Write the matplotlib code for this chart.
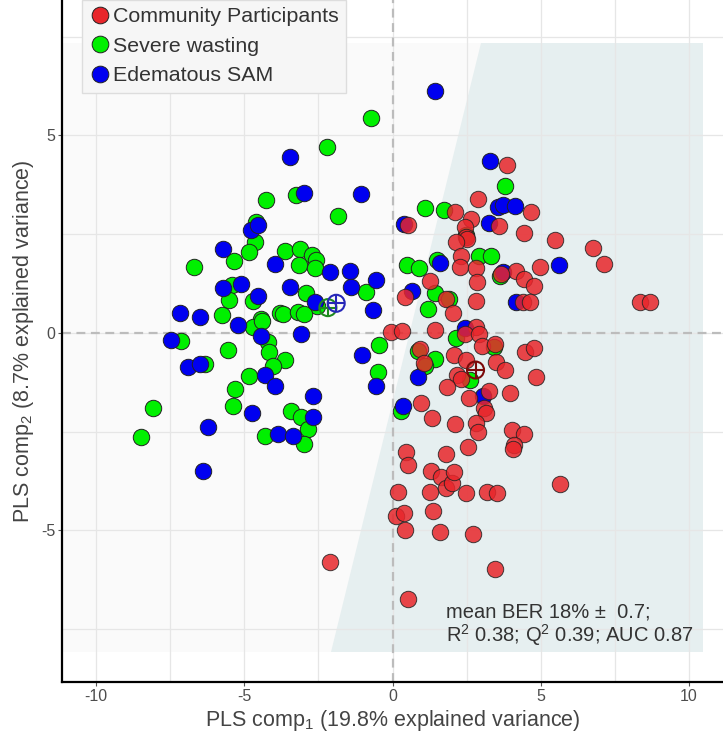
import numpy as np
import matplotlib
matplotlib.use("Agg")
import matplotlib.pyplot as plt
from matplotlib.patches import Polygon, Rectangle
from matplotlib.lines import Line2D

plt.rcParams['font.family'] = ['Liberation Sans', 'DejaVu Sans']
plt.rcParams['mathtext.fontset'] = 'custom'
plt.rcParams['mathtext.rm'] = 'Liberation Sans'
plt.rcParams['mathtext.default'] = 'regular'
plt.rcParams['axes.unicode_minus'] = False

# scores (comp1, comp2)
community = [
    (3.86, 4.24), (2.89, 3.39), (4.68, 3.06), (2.10, 3.06), (2.65, 2.89), (0.53, 2.73),
    (3.58, 2.71), (2.46, 2.68), (2.49, 2.44), (2.51, 2.37), (2.15, 2.30), (4.45, 2.53),
    (5.47, 2.36), (6.76, 2.14), (7.15, 1.74), (2.30, 1.96), (2.29, 1.68), (2.82, 1.64),
    (2.86, 1.30), (4.17, 1.58), (3.66, 1.49), (4.42, 1.36), (4.77, 1.20), (4.98, 1.68),
    (1.25, 1.32), (0.42, 0.91), (1.81, 0.85), (2.82, 0.81), (4.40, 0.78), (4.64, 0.78),
    (8.35, 0.79), (8.70, 0.77), (2.03, 0.50), (-0.04, 0.02), (0.31, 0.05), (1.42, 0.08),
    (2.82, 0.16), (2.43, -0.03), (2.91, -0.03), (3.02, -0.32), (3.47, -0.29), (4.47, -0.49),
    (4.79, -0.39), (0.94, -0.40), (2.06, -0.57), (2.48, -0.68), (3.50, -0.73), (3.78, -0.94),
    (1.06, -0.77), (2.17, -1.06), (2.32, -1.16), (4.85, -1.11), (1.84, -1.38), (3.24, -1.47),
    (3.95, -1.51), (2.57, -1.66), (3.10, -1.89), (3.16, -2.03), (0.97, -1.78), (1.33, -2.16),
    (2.11, -2.30), (2.82, -2.27), (2.90, -2.50), (4.04, -2.46), (4.43, -2.57), (4.09, -2.84),
    (4.06, -2.94), (2.54, -2.88), (0.46, -3.02), (1.79, -3.07), (0.52, -3.34), (1.30, -3.49),
    (1.62, -3.65), (1.79, -3.92), (2.00, -3.81), (2.07, -3.51), (0.18, -4.03), (1.28, -4.02),
    (2.49, -4.06), (3.18, -4.03), (3.53, -4.06), (5.66, -3.82), (0.12, -4.63), (0.38, -4.57),
    (1.38, -4.50), (0.43, -4.99), (1.60, -5.05), (2.72, -5.10), (-2.11, -5.81), (3.46, -5.97),
    (0.53, -6.73),
]

severe_wasting = [
    (-0.74, 5.44), (-2.20, 4.70), (-3.27, 3.50), (-4.27, 3.37), (-1.85, 2.95), (-4.60, 2.82),
    (-4.63, 2.29), (-4.83, 2.05), (-5.34, 1.82), (-6.71, 1.68), (-3.63, 2.08), (-3.13, 2.13),
    (-2.71, 1.97), (-2.57, 1.85), (-3.14, 1.73), (-2.61, 1.65), (-0.89, 1.04), (-5.42, 1.21),
    (-5.51, 0.84), (-4.70, 0.81), (-2.91, 1.01), (-2.54, 0.68), (-5.76, 0.46), (-4.43, 0.35),
    (-3.81, 0.51), (-3.70, 0.48), (-3.19, 0.52), (-3.00, 0.48), (-4.71, 0.14), (-4.42, 0.29),
    (-4.20, -0.22), (-4.16, -0.49), (-3.64, -0.69), (-4.04, -0.84), (-4.83, -1.09), (-5.31, -1.42),
    (-5.39, -1.85), (-5.55, -0.44), (-7.15, -0.20), (-6.33, -0.79), (-8.09, -1.90), (-8.48, -2.64),
    (-3.41, -1.97), (-3.08, -2.13), (-2.86, -2.43), (-3.00, -2.82), (-4.29, -2.61), (-0.44, -0.30),
    (-0.49, -1.00), (3.78, 3.72), (1.09, 3.16), (1.75, 3.11), (2.48, 2.47), (2.91, 1.95),
    (3.31, 1.96), (3.61, 1.43), (0.48, 1.71), (0.91, 1.64), (1.49, 1.84), (1.45, 1.00),
    (1.92, 0.86), (1.19, 0.60), (2.15, -0.14), (3.44, -0.35), (0.85, -0.47), (1.45, -0.67),
    (1.08, -0.85), (2.60, -1.19), (0.29, -1.99),
]

edematous = [
    (1.44, 6.13), (3.29, 4.35), (-3.45, 4.46), (-2.98, 3.55), (-1.05, 3.51), (-4.77, 2.61),
    (-4.54, 2.73), (-5.73, 2.12), (-3.98, 1.75), (-2.10, 1.53), (-1.42, 1.56), (-0.55, 1.34),
    (-1.41, 1.17), (-3.45, 1.16), (-5.71, 1.14), (-5.10, 1.23), (-4.55, 0.94), (-2.63, 0.78),
    (-7.17, 0.51), (-6.48, 0.41), (-5.23, 0.20), (-0.66, 0.58), (-4.43, -0.08), (-4.31, -1.06),
    (-3.95, -1.35), (-4.73, -2.02), (-7.49, -0.19), (-6.91, -0.87), (-6.51, -0.78), (-6.23, -2.38),
    (-6.41, -3.49), (-2.69, -2.12), (-2.68, -1.59), (-3.88, -2.55), (-3.35, -2.62), (-3.08, -0.03),
    (-1.03, -0.57), (-0.55, -1.34), (3.55, 3.18), (3.72, 3.24), (4.14, 3.21), (0.38, 2.75),
    (3.24, 2.79), (3.72, 1.55), (5.63, 1.72), (1.59, 1.76), (0.65, 1.06), (4.17, 0.78),
    (2.43, 0.12), (0.85, -1.12), (3.05, -1.59), (0.35, -1.85),
]

centroids = {'Community Participants': (2.80, -0.94),
             'Severe wasting': (-2.18, 0.64),
             'Edematous SAM': (-1.90, 0.75)}

# prediction region (community class) corners
region_x = [2.97, 10.46, 10.46, -2.09]
region_y = [7.34, 7.34, -8.08, -8.08]

groups = ['Severe wasting', 'Edematous SAM', 'Community Participants']
fill = {'Community Participants': '#e8262b', 'Severe wasting': '#00f000', 'Edematous SAM': '#0000f0'}
dark = {'Community Participants': '#7a0a0a', 'Severe wasting': '#1f8a1f', 'Edematous SAM': '#2626b8'}
alpha = {'Community Participants': 0.85, 'Severe wasting': 1.0, 'Edematous SAM': 1.0}
data = {'Community Participants': community, 'Severe wasting': severe_wasting, 'Edematous SAM': edematous}

fig = plt.figure(figsize=(7.23, 7.32), dpi=100)
ax = fig.add_axes([0.0858, 0.0683, 0.9142, 0.9317])

xmin, xmax = -11.15, 11.15
ymin, ymax = -8.84, 8.43
ax.set_xlim(xmin, xmax)
ax.set_ylim(ymin, ymax)

# background of the decision surface
ax.add_patch(Rectangle((xmin, region_y[2]), region_x[1] - xmin, region_y[0] - region_y[2],
                       facecolor='#fafafa', edgecolor='none', zorder=0.1))
ax.add_patch(Polygon(np.column_stack([region_x, region_y]), closed=True,
                     facecolor='#e6eff0', edgecolor='none', zorder=0.2))

ax.set_axisbelow(True)
ax.set_xticks([-10, -5, 0, 5, 10])
ax.set_yticks([-5, 0, 5])
ax.set_xticks([-7.5, -2.5, 2.5, 7.5], minor=True)
ax.set_yticks([-7.5, -2.5, 2.5, 7.5], minor=True)
ax.grid(True, which='both', color='#e6e6e6', lw=0.9)
ax.tick_params(which='minor', length=0)
ax.tick_params(which='major', length=3, pad=2, color='#555555', labelsize=11.5, labelcolor='#4d4d4d')

ax.axhline(0, color='#bcbcbc', lw=1.6, ls=(0, (4, 2.5)), zorder=1)
ax.axvline(0, color='#bcbcbc', lw=1.6, ls=(0, (4, 2.5)), zorder=1)

for g in groups:
    pts = np.array(data[g])
    ax.scatter(pts[:, 0], pts[:, 1], s=140, c=fill[g], alpha=alpha[g],
               edgecolors='#222222', linewidths=0.7, zorder=3)

for g in groups:
    cx, cy = centroids[g]
    ax.scatter([cx], [cy], s=150, facecolors='none', edgecolors=dark[g], linewidths=1.5, zorder=4)
    ax.scatter([cx], [cy], s=150, marker='+', c=dark[g], linewidths=1.5, zorder=4)

for side in ['top', 'right']:
    ax.spines[side].set_visible(False)
for side in ['left', 'bottom']:
    ax.spines[side].set_linewidth(1.6)
    ax.spines[side].set_color('black')

ax.set_xlabel('PLS comp$_1$ (19.8% explained variance)', fontsize=15.5, color='#444444', labelpad=0)
ax.set_ylabel('PLS comp$_2$ (8.7% explained variance)', fontsize=15.5, color='#444444')
ax.yaxis.set_label_coords(-0.04, 0.5)
ax.xaxis.set_label_coords(0.5, -0.038)

ax.text(1.8, -7.98, 'mean BER 18% \u00b1  0.7;\nR$^2$ 0.38; Q$^2$ 0.39; AUC 0.87',
        fontsize=14.5, color='#333333', ha='left', va='bottom', linespacing=1.05, zorder=5)

handles = [Line2D([], [], ls='none', marker='o', markersize=12, markerfacecolor=fill[g],
                  markeredgecolor='#222222', markeredgewidth=0.7)
           for g in ['Community Participants', 'Severe wasting', 'Edematous SAM']]
leg = ax.legend(handles, ['Community Participants', 'Severe wasting', 'Edematous SAM'],
                loc='upper left', bbox_to_anchor=(0.03, 1.0), fontsize=15.4,
                frameon=True, fancybox=False, facecolor='#f6f6f6', edgecolor='#dddddd',
                framealpha=1, handletextpad=0.1, handlelength=1.0, borderpad=0.35,
                labelspacing=0.48, borderaxespad=0)
for t in leg.get_texts():
    t.set_color('#333333')
leg.set_zorder(6)

fig.savefig('out.png', dpi=100)
